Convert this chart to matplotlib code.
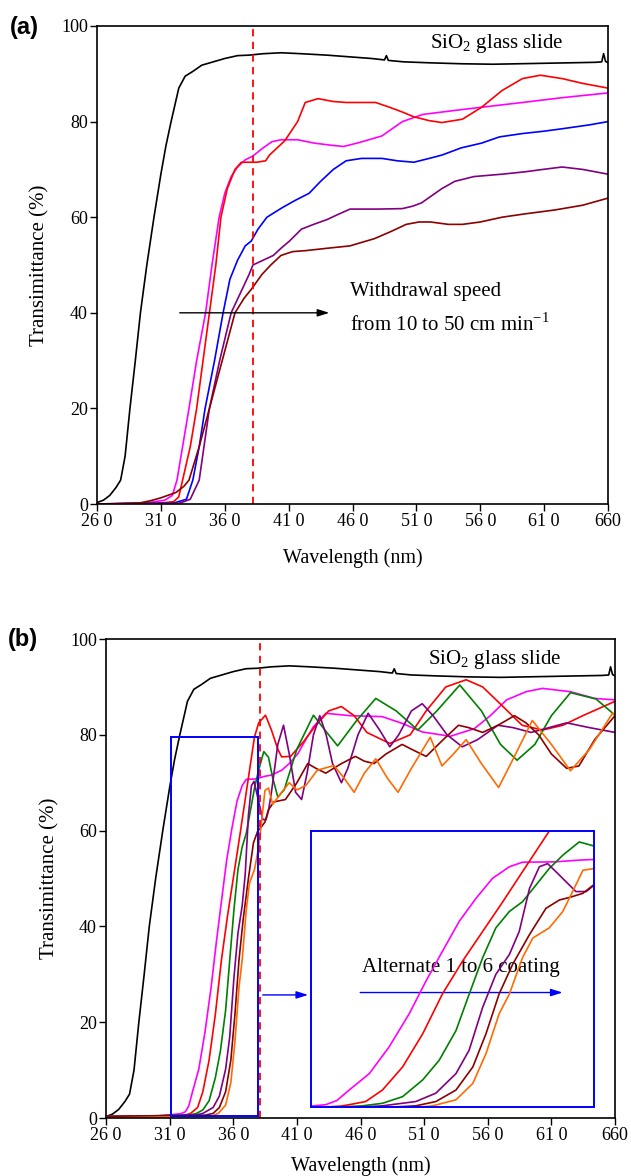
import matplotlib
matplotlib.use("Agg")
import matplotlib.pyplot as plt
from matplotlib.patches import Rectangle

plt.rcParams["font.family"] = ["Liberation Serif", "DejaVu Serif"]
plt.rcParams["mathtext.fontset"] = "custom"
plt.rcParams["mathtext.rm"] = "Liberation Serif"

# ---- data (wavelength nm, transmittance %) ----
# bare SiO2 glass slide, shared by both panels
glass_x = [260, 265, 270, 275, 278.5, 282, 285.8, 290, 294, 299, 304.6, 310, 314, 318,
           324, 329, 335, 342, 351, 360, 370, 379, 390, 404, 420, 440, 460, 475, 485,
           486.5, 488, 500, 520, 545, 570, 590, 610, 630, 650, 655, 656.5, 658, 660]
glass_y = [0.3, 0.8, 1.8, 3.5, 5, 10, 20, 30, 40, 50, 60, 69, 75, 80,
           87, 89.5, 90.5, 91.8, 92.5, 93.2, 93.8, 93.9, 94.2, 94.4, 94.2, 93.9, 93.5, 93.2, 92.9,
           93.8, 92.8, 92.5, 92.3, 92.1, 92.0, 92.1, 92.2, 92.3, 92.4, 92.5, 94.2, 92.6, 92.3]

# panel (a): withdrawal speed 10 -> 50 cm/min
a_mag_x = [260, 300, 313, 319, 322.6, 327, 332, 338, 345, 350, 355.6, 360, 365, 370, 376, 382,
           390, 397, 404, 417, 430, 445, 453, 465, 483, 499, 515, 530, 545, 561, 593, 624, 660]
a_mag_y = [0, 0.3, 0.8, 1.8, 5, 12, 20, 30, 40, 50, 60, 65, 68.5, 70.5, 72, 72.8,
           74.5, 75.8, 76.2, 76.2, 75.5, 75, 74.8, 75.6, 77, 80, 81.5, 82, 82.5, 83, 84, 85, 86]
a_red_x = [260, 310, 320, 324, 327, 333, 338, 343, 348, 353, 357, 362, 368, 373, 385, 392,
           395, 401, 407, 412, 417, 423, 433, 445, 455, 478, 489, 499, 508, 520, 530, 546,
           561, 577, 593, 607, 624, 640, 660]
a_red_y = [0, 0.2, 0.5, 1.5, 5, 12, 20, 30, 40, 50, 60, 66, 70, 71.5, 71.5, 71.8,
           73, 74.5, 76, 78, 80, 84, 84.8, 84.2, 84, 84, 83, 82, 81, 80.2, 79.8, 80.5,
           83, 86.5, 89, 89.7, 89, 88, 87]
a_blue_x = [260, 320, 330, 335, 340, 344.6, 352, 358.7, 364, 370, 376, 380.7, 386, 393, 405,
            415, 426, 435, 445, 455, 467, 483, 495, 508, 520, 530, 545, 561, 575, 593, 610,
            624, 645, 660]
a_blue_y = [0, 0.2, 1, 5, 12, 20, 30, 40, 47, 51, 54, 55, 57.5, 60, 62,
            63.5, 65, 67.5, 70, 71.8, 72.3, 72.3, 71.8, 71.5, 72.3, 73, 74.5, 75.5, 76.8, 77.5, 78,
            78.5, 79.3, 80]
a_pur_x = [260, 325, 333, 340, 348, 356, 365, 372, 379, 382, 390, 398, 404, 410.6, 420,
           429.5, 440, 448, 458, 467, 480, 499, 507, 514, 522, 530, 540, 555, 577, 595, 609,
           624, 640, 660]
a_pur_y = [0, 0.2, 1, 5, 20, 30, 40, 44, 48, 50, 51, 52, 53.5, 55, 57.5,
           58.5, 59.5, 60.5, 61.7, 61.7, 61.7, 61.8, 62.3, 63, 64.5, 66, 67.5, 68.5, 69, 69.5, 70,
           70.5, 70, 69]
a_drd_x = [260, 280, 293, 302, 310, 321.7, 328, 332, 340, 348, 358, 368, 375, 381, 389, 396,
           404, 413, 423, 440, 458, 468, 477, 490, 502, 512, 521, 535, 546, 560, 577, 595,
           618, 640, 660]
a_drd_y = [0, 0.1, 0.2, 0.7, 1.3, 2.4, 3.7, 5, 12, 20, 30, 40, 43, 45, 48, 50,
           52, 52.8, 53, 53.5, 54, 54.8, 55.5, 57, 58.5, 59, 59, 58.5, 58.5, 59, 60, 60.7,
           61.5, 62.5, 64]

# panel (b): alternate 1 to 6 coatings
b_mag_x = [260, 300, 318.8, 322.3, 325, 328, 332.9, 337.7, 342.6, 346.7, 350.7, 354.8, 358.9,
           362.9, 367, 370.2, 378, 384, 390, 398, 404, 410.6, 417, 423, 432.7, 451.6, 477,
           492.7, 508.5, 530.6, 549.5, 562, 574.8, 590, 603, 625, 644, 660]
b_mag_y = [0.3, 0.4, 0.9, 1.3, 2.5, 5.5, 10.2, 17.8, 27.3, 36.7, 45.2, 53.8, 60.4,
           66.1, 69.4, 70.7, 70.8, 71.3, 71.6, 72.6, 74, 76, 79, 81.7, 84.5, 84, 83.8,
           82.4, 80.6, 79.7, 81.3, 84, 87.3, 89, 89.7, 89, 87.6, 87.3]
b_red_x = [260, 320, 326, 328, 332, 336.1, 341, 345.9, 350.7, 355.6, 360.5, 365.4, 370.2,
           376.7, 380, 385.3, 390, 395, 398, 405, 415, 425, 435, 445, 455, 465, 483, 499,
           511.6, 527, 543, 556, 571.6, 587, 603, 619, 634.7, 660]
b_red_y = [0.3, 0.5, 0.9, 1.3, 2.2, 5.5, 12.1, 21.6, 33, 42.4, 50.9, 59.4, 68,
           79.6, 82.5, 84.1, 81, 77, 75.4, 75.5, 78.5, 82, 85, 85.9, 84, 80.5, 78.2, 80,
           85, 90, 91.5, 90, 86, 82, 81, 82, 84, 87]
b_grn_x = [260, 325, 331.2, 336.1, 341, 345.9, 349.9, 354, 357.2, 360.5, 363.7, 367, 370.2,
           373.5, 376.7, 380, 384, 387.7, 391, 395, 400, 410, 423, 432, 442, 457, 472, 488,
           505, 520, 538, 555, 570, 583, 597, 610, 625, 645, 660]
b_grn_y = [0.3, 0.6, 0.97, 1.7, 3.6, 8.4, 14, 22.5, 32.9, 43.4, 51.9, 56.6, 59.4,
           64.2, 68.9, 72.7, 76.5, 75.3, 71, 67, 68.5, 77, 84.1, 81, 77.7, 83, 87.6, 85,
           81, 85, 90.4, 85, 78, 74.7, 78, 84, 88.8, 87.5, 84.1]
b_pur_x = [260, 330, 336.1, 344.2, 349.1, 354, 357.2, 360.5, 363.7, 367, 369.4, 371.9, 374.3,
           376.3, 378.4, 380.8, 383.2, 385.7, 387.7, 390, 395, 399.5, 404, 409, 413.7, 418,
           423, 428, 433, 438, 445, 450, 458, 466, 475, 483, 490, 500, 508.5, 517, 528, 540,
           552, 568, 580, 594, 608, 622, 640, 660]
b_pur_y = [0.3, 0.6, 0.97, 2.2, 4.6, 10.2, 16.9, 29.2, 38.6, 44.3, 50.9, 63.2, 69.4,
           70.3, 67.9, 65.1, 62.3, 62.3, 64.2, 68, 78, 82, 76, 68, 66.5, 72,
           80, 84, 80, 74, 70, 73, 80, 84.5, 81, 77.5, 80, 85, 86.5, 84, 80, 77.5,
           79, 82, 81.5, 80.5, 81.5, 82.5, 81.5, 80.5]
b_drd_x = [260, 338, 344.2, 349.1, 354, 358.1, 361.3, 364.5, 367.8, 371.9, 375.9, 379.2,
           381.6, 384.9, 387.7, 392, 401, 410, 418.5, 425, 432.7, 445, 456, 463, 470.6, 480,
           492.7, 500, 511.6, 525, 537, 545, 556, 568, 581, 590, 600, 610, 622, 631.6, 644, 660]
b_drd_y = [0.3, 0.6, 0.97, 2.2, 5.5, 12.1, 21.6, 33, 41.5, 50, 57.5, 59.9,
           60.6, 61.8, 64.4, 66, 66.5, 70, 74, 73, 72, 74, 75.5, 74.5, 74, 76,
           78, 77, 75.5, 79, 82, 81.5, 80.5, 82, 84, 82.5, 80, 76, 73, 73.5, 79, 84]
b_org_x = [260, 343, 348.3, 354, 358.1, 361.3, 364.5, 367, 370.2, 372.7, 376.7, 380, 382.4,
           384.9, 387.7, 391, 398, 404, 410, 417, 426, 439, 447, 455, 463, 472, 481, 489.5,
           500, 514.8, 524, 533, 543, 555, 568.5, 580, 595, 610, 625, 640, 658, 660]
b_org_y = [0.0, 0.4, 0.97, 2.7, 7.4, 15.9, 27.3, 33, 43.4, 49, 51.9, 56.6, 62.3,
           68.4, 68.9, 65.5, 68, 70, 68.5, 69.4, 72.6, 73.6, 71, 68, 72, 75, 71, 68,
           73, 79.5, 73.5, 76, 79, 74, 69, 75, 83, 78, 72.5, 77, 84.5, 84]

a_series = [(a_mag_x, a_mag_y, "#ff00ff"), (a_red_x, a_red_y, "#ff0000"),
            (a_blue_x, a_blue_y, "#0000ff"), (a_pur_x, a_pur_y, "#800080"),
            (a_drd_x, a_drd_y, "#8b0000")]
b_series = [(b_mag_x, b_mag_y, "#ff00ff"), (b_red_x, b_red_y, "#ff0000"),
            (b_grn_x, b_grn_y, "#008000"), (b_pur_x, b_pur_y, "#800080"),
            (b_drd_x, b_drd_y, "#8b0000"), (b_org_x, b_org_y, "#ff6a00")]

xticks = [260, 310, 360, 410, 460, 510, 560, 610, 660]
xticklabels = ["26 0", "31 0", "36 0", "41 0", "46 0", "51 0", "56 0", "61 0", "660"]
yticks = [0, 20, 40, 60, 80, 100]

ARROW = "-|>,head_length=0.7,head_width=0.22"


def style_axes(ax, xpad):
    ax.set_xlim(260, 660)
    ax.set_ylim(0, 100)
    ax.set_xticks(xticks)
    ax.set_xticklabels(xticklabels)
    ax.set_yticks(yticks)
    ax.tick_params(direction="out", length=5, width=1.0, labelsize=13, pad=1.5,
                   top=False, right=False)
    for s in ax.spines.values():
        s.set_linewidth(1.2)
    ax.set_xlabel("Wavelength (nm)", fontsize=14.5, labelpad=xpad)
    ax.set_ylabel("Transimittance (%)", fontsize=15, labelpad=8)


fig = plt.figure(figsize=(6.31, 11.76), dpi=100)
ax_a = fig.add_axes([0.1537, 0.5714, 0.810, 0.4065])
ax_b = fig.add_axes([0.168, 0.0493, 0.8067, 0.4073])

# ---- panel (a) ----
ax_a.plot(glass_x, glass_y, color="black", lw=1.2)
for xs, ys, c in a_series:
    ax_a.plot(xs, ys, color=c, lw=1.2)
ax_a.axvline(382, color="#ff0000", lw=1.3, ls=(0, (4, 3)))
ax_a.text(521, 96.3, "SiO$_2$ glass slide", fontsize=15, va="center")
ax_a.annotate("", xy=(444, 40), xytext=(322.6, 40),
              arrowprops=dict(arrowstyle=ARROW, color="black", lw=1.0))
ax_a.text(458, 44.5, "Withdrawal speed", fontsize=15, va="center")
ax_a.text(458, 37.6, "from 10 to 50 cm min$^{-1}$", fontsize=15, va="center")
style_axes(ax_a, 13)
fig.text(0.015, 0.977, "(a)", fontsize=17, fontweight="bold",
         family="Liberation Sans", va="center")

# ---- panel (b) ----
ax_b.plot(glass_x, glass_y, color="black", lw=1.2)
for xs, ys, c in b_series:
    ax_b.plot(xs, ys, color=c, lw=1.2)
ax_b.axvline(381, color="#ff0000", lw=1.3, ls=(0, (4, 3)))
ax_b.text(513, 95.8, "SiO$_2$ glass slide", fontsize=15, va="center")
ax_b.add_patch(Rectangle((310.8, 0.5), 68.9, 79.1, fill=False,
                         edgecolor="#0000ff", lw=1.4, zorder=5))
ax_b.annotate("", xy=(421, 25.7), xytext=(381, 25.7),
              arrowprops=dict(arrowstyle=ARROW, color="#0000ff", lw=1.0))

ins = ax_b.inset_axes([421.4, 2.2, 222.4, 57.7], transform=ax_b.transData)
for xs, ys, c in b_series:
    ins.plot(xs, ys, color=c, lw=1.2)
ins.set_xlim(318.8, 387.7)
ins.set_ylim(0.5, 79.6)
ins.set_xticks([])
ins.set_yticks([])
for s in ins.spines.values():
    s.set_edgecolor("#0000ff")
    s.set_linewidth(1.4)
ins.set_facecolor("none")

ax_b.text(539, 31.5, "Alternate 1 to 6 coating", fontsize=15, ha="center", va="center")
ax_b.annotate("", xy=(621, 26.2), xytext=(457.6, 26.2),
              arrowprops=dict(arrowstyle=ARROW, color="#0000ff", lw=1.0))
style_axes(ax_b, 9)
fig.text(0.012, 0.456, "(b)", fontsize=17, fontweight="bold",
         family="Liberation Sans", va="center")

fig.savefig("out.png", dpi=100)
